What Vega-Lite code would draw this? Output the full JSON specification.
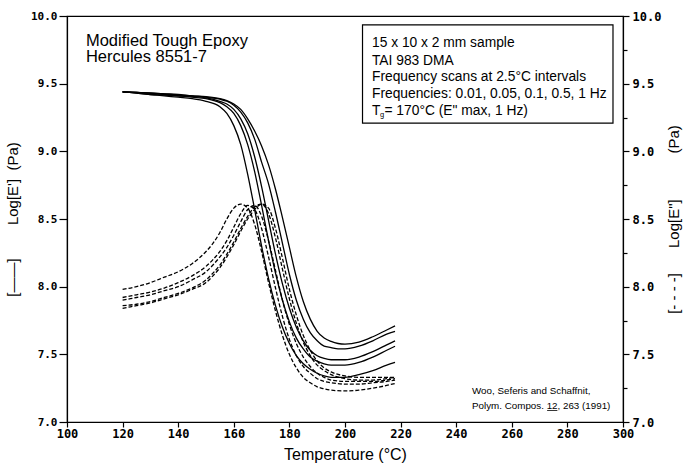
{
  "$schema": "https://vega.github.io/schema/vega-lite/v6.json",
  "width": 556,
  "height": 406,
  "autosize": {"type": "none"},
  "padding": {"left": 67, "top": 16, "right": 63, "bottom": 41},
  "background": "white",
  "config": {
    "view": {"stroke": "black", "strokeWidth": 1.2},
    "axis": {
      "grid": false,
      "domainColor": "black",
      "domainWidth": 1.2,
      "tickColor": "black",
      "tickWidth": 1.2,
      "labelColor": "black",
      "titleColor": "black",
      "labelFont": "DejaVu Sans Mono",
      "labelFontWeight": "bold",
      "titleFont": "Liberation Sans",
      "titleFontWeight": "normal",
      "labelFlush": false,
      "labelOverlap": false
    }
  },
  "datasets": {
    "eprime": [
      {"f":"0.01","T":120,"v":9.44},{"f":"0.01","T":125,"v":9.43},{"f":"0.01","T":130,"v":9.42},{"f":"0.01","T":135,"v":9.41},{"f":"0.01","T":140,"v":9.40},{"f":"0.01","T":145,"v":9.39},{"f":"0.01","T":150,"v":9.37},{"f":"0.01","T":155,"v":9.33},{"f":"0.01","T":157.5,"v":9.28},{"f":"0.01","T":160,"v":9.19},{"f":"0.01","T":162.5,"v":9.05},{"f":"0.01","T":165,"v":8.83},{"f":"0.01","T":167.5,"v":8.57},{"f":"0.01","T":170,"v":8.30},{"f":"0.01","T":172.5,"v":8.06},{"f":"0.01","T":175,"v":7.86},{"f":"0.01","T":177.5,"v":7.70},{"f":"0.01","T":180,"v":7.58},{"f":"0.01","T":182.5,"v":7.49},{"f":"0.01","T":185,"v":7.43},{"f":"0.01","T":187.5,"v":7.39},{"f":"0.01","T":190,"v":7.36},{"f":"0.01","T":192.5,"v":7.34},{"f":"0.01","T":195,"v":7.33},{"f":"0.01","T":197.5,"v":7.33},{"f":"0.01","T":200,"v":7.33},{"f":"0.01","T":205,"v":7.35},{"f":"0.01","T":210,"v":7.38},{"f":"0.01","T":215,"v":7.42},{"f":"0.01","T":218,"v":7.44},
      {"f":"0.05","T":120,"v":9.44},{"f":"0.05","T":125,"v":9.43},{"f":"0.05","T":130,"v":9.42},{"f":"0.05","T":135,"v":9.415},{"f":"0.05","T":140,"v":9.41},{"f":"0.05","T":145,"v":9.40},{"f":"0.05","T":150,"v":9.39},{"f":"0.05","T":155,"v":9.36},{"f":"0.05","T":157.5,"v":9.33},{"f":"0.05","T":160,"v":9.28},{"f":"0.05","T":162.5,"v":9.19},{"f":"0.05","T":165,"v":9.05},{"f":"0.05","T":167.5,"v":8.85},{"f":"0.05","T":170,"v":8.60},{"f":"0.05","T":172.5,"v":8.34},{"f":"0.05","T":175,"v":8.10},{"f":"0.05","T":177.5,"v":7.90},{"f":"0.05","T":180,"v":7.74},{"f":"0.05","T":182.5,"v":7.62},{"f":"0.05","T":185,"v":7.54},{"f":"0.05","T":187.5,"v":7.48},{"f":"0.05","T":190,"v":7.45},{"f":"0.05","T":192.5,"v":7.43},{"f":"0.05","T":195,"v":7.42},{"f":"0.05","T":197.5,"v":7.42},{"f":"0.05","T":200,"v":7.42},{"f":"0.05","T":205,"v":7.44},{"f":"0.05","T":210,"v":7.48},{"f":"0.05","T":215,"v":7.53},{"f":"0.05","T":218,"v":7.56},
      {"f":"0.1","T":120,"v":9.44},{"f":"0.1","T":125,"v":9.435},{"f":"0.1","T":130,"v":9.43},{"f":"0.1","T":135,"v":9.42},{"f":"0.1","T":140,"v":9.41},{"f":"0.1","T":145,"v":9.405},{"f":"0.1","T":150,"v":9.395},{"f":"0.1","T":155,"v":9.37},{"f":"0.1","T":157.5,"v":9.35},{"f":"0.1","T":160,"v":9.31},{"f":"0.1","T":162.5,"v":9.24},{"f":"0.1","T":165,"v":9.13},{"f":"0.1","T":167.5,"v":8.96},{"f":"0.1","T":170,"v":8.74},{"f":"0.1","T":172.5,"v":8.49},{"f":"0.1","T":175,"v":8.24},{"f":"0.1","T":177.5,"v":8.02},{"f":"0.1","T":180,"v":7.84},{"f":"0.1","T":182.5,"v":7.70},{"f":"0.1","T":185,"v":7.60},{"f":"0.1","T":187.5,"v":7.53},{"f":"0.1","T":190,"v":7.49},{"f":"0.1","T":192.5,"v":7.47},{"f":"0.1","T":195,"v":7.46},{"f":"0.1","T":197.5,"v":7.46},{"f":"0.1","T":200,"v":7.46},{"f":"0.1","T":205,"v":7.48},{"f":"0.1","T":210,"v":7.52},{"f":"0.1","T":215,"v":7.57},{"f":"0.1","T":218,"v":7.60},
      {"f":"0.5","T":120,"v":9.44},{"f":"0.5","T":125,"v":9.435},{"f":"0.5","T":130,"v":9.43},{"f":"0.5","T":135,"v":9.425},{"f":"0.5","T":140,"v":9.415},{"f":"0.5","T":145,"v":9.41},{"f":"0.5","T":150,"v":9.40},{"f":"0.5","T":155,"v":9.385},{"f":"0.5","T":157.5,"v":9.37},{"f":"0.5","T":160,"v":9.34},{"f":"0.5","T":162.5,"v":9.29},{"f":"0.5","T":165,"v":9.21},{"f":"0.5","T":167.5,"v":9.09},{"f":"0.5","T":170,"v":8.92},{"f":"0.5","T":172.5,"v":8.76},{"f":"0.5","T":175,"v":8.55},{"f":"0.5","T":177.5,"v":8.32},{"f":"0.5","T":180,"v":8.09},{"f":"0.5","T":182.5,"v":7.90},{"f":"0.5","T":185,"v":7.76},{"f":"0.5","T":187.5,"v":7.66},{"f":"0.5","T":190,"v":7.60},{"f":"0.5","T":192.5,"v":7.56},{"f":"0.5","T":195,"v":7.55},{"f":"0.5","T":197.5,"v":7.54},{"f":"0.5","T":200,"v":7.54},{"f":"0.5","T":205,"v":7.56},{"f":"0.5","T":210,"v":7.60},{"f":"0.5","T":215,"v":7.65},{"f":"0.5","T":218,"v":7.67},
      {"f":"1","T":120,"v":9.44},{"f":"1","T":125,"v":9.435},{"f":"1","T":130,"v":9.43},{"f":"1","T":135,"v":9.425},{"f":"1","T":140,"v":9.42},{"f":"1","T":145,"v":9.41},{"f":"1","T":150,"v":9.405},{"f":"1","T":155,"v":9.39},{"f":"1","T":157.5,"v":9.375},{"f":"1","T":160,"v":9.35},{"f":"1","T":162.5,"v":9.31},{"f":"1","T":165,"v":9.24},{"f":"1","T":167.5,"v":9.15},{"f":"1","T":170,"v":9.04},{"f":"1","T":172.5,"v":8.90},{"f":"1","T":175,"v":8.72},{"f":"1","T":177.5,"v":8.51},{"f":"1","T":180,"v":8.29},{"f":"1","T":182.5,"v":8.07},{"f":"1","T":185,"v":7.89},{"f":"1","T":187.5,"v":7.76},{"f":"1","T":190,"v":7.67},{"f":"1","T":192.5,"v":7.62},{"f":"1","T":195,"v":7.595},{"f":"1","T":197.5,"v":7.58},{"f":"1","T":200,"v":7.575},{"f":"1","T":205,"v":7.59},{"f":"1","T":210,"v":7.63},{"f":"1","T":215,"v":7.68},{"f":"1","T":218,"v":7.71}
    ],
    "edouble": [
      {"f":"0.01","T":120,"v":7.98},{"f":"0.01","T":125,"v":8.00},{"f":"0.01","T":130,"v":8.03},{"f":"0.01","T":135,"v":8.07},{"f":"0.01","T":140,"v":8.11},{"f":"0.01","T":145,"v":8.17},{"f":"0.01","T":150,"v":8.26},{"f":"0.01","T":152.5,"v":8.32},{"f":"0.01","T":155,"v":8.40},{"f":"0.01","T":157.5,"v":8.50},{"f":"0.01","T":160,"v":8.58},{"f":"0.01","T":162.5,"v":8.61},{"f":"0.01","T":165,"v":8.58},{"f":"0.01","T":167.5,"v":8.46},{"f":"0.01","T":170,"v":8.26},{"f":"0.01","T":172.5,"v":8.03},{"f":"0.01","T":175,"v":7.82},{"f":"0.01","T":177.5,"v":7.64},{"f":"0.01","T":180,"v":7.50},{"f":"0.01","T":182.5,"v":7.40},{"f":"0.01","T":185,"v":7.33},{"f":"0.01","T":187.5,"v":7.29},{"f":"0.01","T":190,"v":7.26},{"f":"0.01","T":192.5,"v":7.245},{"f":"0.01","T":195,"v":7.235},{"f":"0.01","T":200,"v":7.23},{"f":"0.01","T":205,"v":7.235},{"f":"0.01","T":210,"v":7.25},{"f":"0.01","T":215,"v":7.27},{"f":"0.01","T":218,"v":7.285},
      {"f":"0.05","T":120,"v":7.92},{"f":"0.05","T":125,"v":7.94},{"f":"0.05","T":130,"v":7.96},{"f":"0.05","T":135,"v":7.99},{"f":"0.05","T":140,"v":8.03},{"f":"0.05","T":145,"v":8.08},{"f":"0.05","T":150,"v":8.15},{"f":"0.05","T":152.5,"v":8.20},{"f":"0.05","T":155,"v":8.26},{"f":"0.05","T":157.5,"v":8.34},{"f":"0.05","T":160,"v":8.44},{"f":"0.05","T":162.5,"v":8.54},{"f":"0.05","T":165,"v":8.60},{"f":"0.05","T":167.5,"v":8.57},{"f":"0.05","T":170,"v":8.43},{"f":"0.05","T":172.5,"v":8.22},{"f":"0.05","T":175,"v":7.99},{"f":"0.05","T":177.5,"v":7.78},{"f":"0.05","T":180,"v":7.61},{"f":"0.05","T":182.5,"v":7.49},{"f":"0.05","T":185,"v":7.41},{"f":"0.05","T":187.5,"v":7.36},{"f":"0.05","T":190,"v":7.32},{"f":"0.05","T":192.5,"v":7.30},{"f":"0.05","T":195,"v":7.29},{"f":"0.05","T":200,"v":7.28},{"f":"0.05","T":205,"v":7.28},{"f":"0.05","T":210,"v":7.29},{"f":"0.05","T":215,"v":7.30},{"f":"0.05","T":218,"v":7.31},
      {"f":"0.1","T":120,"v":7.90},{"f":"0.1","T":125,"v":7.92},{"f":"0.1","T":130,"v":7.94},{"f":"0.1","T":135,"v":7.97},{"f":"0.1","T":140,"v":8.00},{"f":"0.1","T":145,"v":8.05},{"f":"0.1","T":150,"v":8.11},{"f":"0.1","T":152.5,"v":8.16},{"f":"0.1","T":155,"v":8.22},{"f":"0.1","T":157.5,"v":8.29},{"f":"0.1","T":160,"v":8.38},{"f":"0.1","T":162.5,"v":8.48},{"f":"0.1","T":165,"v":8.57},{"f":"0.1","T":167.5,"v":8.60},{"f":"0.1","T":170,"v":8.52},{"f":"0.1","T":172.5,"v":8.34},{"f":"0.1","T":175,"v":8.12},{"f":"0.1","T":177.5,"v":7.90},{"f":"0.1","T":180,"v":7.72},{"f":"0.1","T":182.5,"v":7.58},{"f":"0.1","T":185,"v":7.48},{"f":"0.1","T":187.5,"v":7.41},{"f":"0.1","T":190,"v":7.36},{"f":"0.1","T":192.5,"v":7.33},{"f":"0.1","T":195,"v":7.31},{"f":"0.1","T":200,"v":7.30},{"f":"0.1","T":205,"v":7.30},{"f":"0.1","T":210,"v":7.30},{"f":"0.1","T":215,"v":7.31},{"f":"0.1","T":218,"v":7.32},
      {"f":"0.5","T":120,"v":7.86},{"f":"0.5","T":125,"v":7.87},{"f":"0.5","T":130,"v":7.89},{"f":"0.5","T":135,"v":7.92},{"f":"0.5","T":140,"v":7.95},{"f":"0.5","T":145,"v":7.99},{"f":"0.5","T":150,"v":8.05},{"f":"0.5","T":152.5,"v":8.10},{"f":"0.5","T":155,"v":8.16},{"f":"0.5","T":157.5,"v":8.24},{"f":"0.5","T":160,"v":8.33},{"f":"0.5","T":162.5,"v":8.43},{"f":"0.5","T":165,"v":8.52},{"f":"0.5","T":167.5,"v":8.59},{"f":"0.5","T":170,"v":8.61},{"f":"0.5","T":172.5,"v":8.54},{"f":"0.5","T":175,"v":8.36},{"f":"0.5","T":177.5,"v":8.13},{"f":"0.5","T":180,"v":7.91},{"f":"0.5","T":182.5,"v":7.73},{"f":"0.5","T":185,"v":7.59},{"f":"0.5","T":187.5,"v":7.49},{"f":"0.5","T":190,"v":7.42},{"f":"0.5","T":192.5,"v":7.38},{"f":"0.5","T":195,"v":7.35},{"f":"0.5","T":200,"v":7.32},{"f":"0.5","T":205,"v":7.31},{"f":"0.5","T":210,"v":7.31},{"f":"0.5","T":215,"v":7.32},{"f":"0.5","T":218,"v":7.33},
      {"f":"1","T":120,"v":7.84},{"f":"1","T":125,"v":7.86},{"f":"1","T":130,"v":7.88},{"f":"1","T":135,"v":7.91},{"f":"1","T":140,"v":7.94},{"f":"1","T":145,"v":7.98},{"f":"1","T":150,"v":8.03},{"f":"1","T":152.5,"v":8.08},{"f":"1","T":155,"v":8.14},{"f":"1","T":157.5,"v":8.22},{"f":"1","T":160,"v":8.31},{"f":"1","T":162.5,"v":8.41},{"f":"1","T":165,"v":8.50},{"f":"1","T":167.5,"v":8.57},{"f":"1","T":170,"v":8.61},{"f":"1","T":172.5,"v":8.58},{"f":"1","T":175,"v":8.43},{"f":"1","T":177.5,"v":8.21},{"f":"1","T":180,"v":7.98},{"f":"1","T":182.5,"v":7.79},{"f":"1","T":185,"v":7.64},{"f":"1","T":187.5,"v":7.53},{"f":"1","T":190,"v":7.45},{"f":"1","T":192.5,"v":7.40},{"f":"1","T":195,"v":7.37},{"f":"1","T":200,"v":7.34},{"f":"1","T":205,"v":7.33},{"f":"1","T":210,"v":7.33},{"f":"1","T":215,"v":7.33},{"f":"1","T":218,"v":7.33}
    ],
    "notes": [
      {"g":"title","T":106.8,"v":9.782,"text":"Modified Tough Epoxy"},
      {"g":"title","T":106.8,"v":9.658,"text":"Hercules 8551-7"},
      {"g":"box","T":209.7,"v":9.80,"text":"15 x 10 x 2 mm sample"},
      {"g":"box","T":209.7,"v":9.667,"text":"TAI 983 DMA"},
      {"g":"box","T":209.7,"v":9.549,"text":"Frequency scans at 2.5°C intervals"},
      {"g":"box","T":209.7,"v":9.424,"text":"Frequencies: 0.01, 0.05, 0.1, 0.5, 1 Hz"},
      {"g":"box","T":209.7,"v":9.298,"text":"T"},
      {"g":"sub","T":209.7,"v":9.298,"text":"g"},
      {"g":"eq","T":209.7,"v":9.298,"text":"= 170°C (E\" max, 1 Hz)"},
      {"g":"cite","T":245.7,"v":7.231,"text":"Woo, Seferis and Schaffnit,"},
      {"g":"cite","T":245.7,"v":7.118,"text":"Polym. Compos. 12, 263 (1991)"}
    ],
    "box": [{"x1":206.3,"x2":296.4,"y1":9.209,"y2":9.934}],
    "ul": [{"x1":272.7,"x2":276.4,"y":7.085}]
  },
  "layer": [
    {
      "layer": [
        {
          "data": {"name": "box"},
          "mark": {"type": "rect", "fill": "white", "stroke": "black", "strokeWidth": 1.2},
          "encoding": {
            "x": {"field": "x1", "type": "quantitative", "scale": {"domain": [100, 300], "nice": false}},
            "x2": {"field": "x2"},
            "y": {"field": "y1", "type": "quantitative", "scale": {"domain": [7, 10], "nice": false}},
            "y2": {"field": "y2"}
          }
        },
        {
          "data": {"name": "eprime"},
          "mark": {"type": "line", "color": "black", "strokeWidth": 1.3, "interpolate": "monotone"},
          "encoding": {
            "x": {
              "field": "T", "type": "quantitative",
              "scale": {"domain": [100, 300], "nice": false},
              "axis": {
                "title": "Temperature (°C)",
                "titleFontSize": 16,
                "titlePadding": 7,
                "values": [100,110,120,130,140,150,160,170,180,190,200,210,220,230,240,250,260,270,280,290,300],
                "labelExpr": "datum.value % 20 === 0 ? datum.label : ''",
                "tickSize": {"condition": {"test": "datum.value % 20 === 0", "value": 5}, "value": 3},
                "labelFontSize": 12,
                "labelPadding": 1
              }
            },
            "y": {
              "field": "v", "type": "quantitative",
              "scale": {"domain": [7, 10], "nice": false},
              "axis": {
                "title": "\u00a0\u00a0\u00a0\u00a0[——]\u00a0\u00a0\u00a0\u00a0\u00a0\u00a0\u00a0\u00a0Log[E']\u00a0\u00a0(Pa)",
                "titleFontSize": 15,
                "titlePadding": 10,
                "values": [7,7.25,7.5,7.75,8,8.25,8.5,8.75,9,9.25,9.5,9.75,10],
                "labelExpr": "datum.value % 0.5 === 0 ? format(datum.value, '.1f') : ''",
                "tickSize": {"condition": {"test": "datum.value % 0.5 === 0", "value": 8}, "value": 4},
                "labelFontSize": 11,
                "labelPadding": 2
              }
            },
            "detail": {"field": "f"}
          }
        },
        {
          "data": {"name": "notes"},
          "transform": [{"filter": "datum.g === 'title'"}],
          "mark": {"type": "text", "align": "left", "baseline": "alphabetic", "font": "Liberation Sans", "fontSize": 16.5, "color": "black"},
          "encoding": {
            "x": {"field": "T", "type": "quantitative"},
            "y": {"field": "v", "type": "quantitative"},
            "text": {"field": "text"}
          }
        },
        {
          "data": {"name": "notes"},
          "transform": [{"filter": "datum.g === 'box'"}],
          "mark": {"type": "text", "align": "left", "baseline": "middle", "font": "Liberation Sans", "fontSize": 13.8, "color": "black"},
          "encoding": {
            "x": {"field": "T", "type": "quantitative"},
            "y": {"field": "v", "type": "quantitative"},
            "text": {"field": "text"}
          }
        },
        {
          "data": {"name": "notes"},
          "transform": [{"filter": "datum.g === 'eq'"}],
          "mark": {"type": "text", "align": "left", "baseline": "middle", "font": "Liberation Sans", "fontSize": 13.8, "dx": 12.5, "color": "black"},
          "encoding": {
            "x": {"field": "T", "type": "quantitative"},
            "y": {"field": "v", "type": "quantitative"},
            "text": {"field": "text"}
          }
        },
        {
          "data": {"name": "notes"},
          "transform": [{"filter": "datum.g === 'sub'"}],
          "mark": {"type": "text", "align": "left", "baseline": "middle", "font": "Liberation Sans", "fontSize": 7.5, "dx": 8, "dy": 3.5, "color": "black"},
          "encoding": {
            "x": {"field": "T", "type": "quantitative"},
            "y": {"field": "v", "type": "quantitative"},
            "text": {"field": "text"}
          }
        },
        {
          "data": {"name": "notes"},
          "transform": [{"filter": "datum.g === 'cite'"}],
          "mark": {"type": "text", "align": "left", "baseline": "middle", "font": "Liberation Sans", "fontSize": 9.8, "color": "black"},
          "encoding": {
            "x": {"field": "T", "type": "quantitative"},
            "y": {"field": "v", "type": "quantitative"},
            "text": {"field": "text"}
          }
        },
        {
          "data": {"name": "ul"},
          "mark": {"type": "rule", "color": "black", "strokeWidth": 0.8},
          "encoding": {
            "x": {"field": "x1", "type": "quantitative"},
            "x2": {"field": "x2"},
            "y": {"field": "y", "type": "quantitative"}
          }
        }
      ]
    },
    {
      "data": {"name": "edouble"},
      "mark": {"type": "line", "color": "black", "strokeWidth": 1.3, "strokeDash": [4, 2], "interpolate": "monotone"},
      "encoding": {
        "x": {"field": "T", "type": "quantitative"},
        "y": {
          "field": "v", "type": "quantitative",
          "scale": {"domain": [7, 10], "nice": false},
          "axis": {
            "orient": "right",
            "title": "\u00a0\u00a0\u00a0\u00a0\u00a0\u00a0\u00a0\u00a0\u00a0\u00a0\u00a0\u00a0\u00a0\u00a0\u00a0[- - - -]\u00a0\u00a0\u00a0\u00a0\u00a0\u00a0Log[E\"]\u00a0\u00a0\u00a0\u00a0\u00a0\u00a0\u00a0\u00a0\u00a0\u00a0\u00a0(Pa)",
            "titleAngle": 270,
            "titleFontSize": 15,
            "titlePadding": 21,
            "values": [7,7.25,7.5,7.75,8,8.25,8.5,8.75,9,9.25,9.5,9.75,10],
            "labelExpr": "datum.value % 0.5 === 0 ? format(datum.value, '.1f') : ''",
            "tickSize": {"condition": {"test": "datum.value % 0.5 === 0", "value": 6}, "value": 4},
            "labelFontSize": 12,
            "labelPadding": 3
          }
        },
        "detail": {"field": "f"}
      }
    }
  ],
  "resolve": {"scale": {"y": "independent"}}
}
